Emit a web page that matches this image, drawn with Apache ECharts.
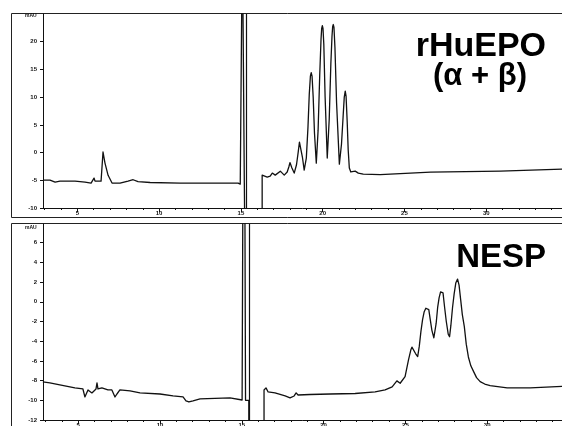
<!DOCTYPE html>
<html>
<head>
<meta charset="utf-8">
<script src="https://cdn.jsdelivr.net/npm/echarts@6/dist/echarts.min.js"></script>
<style>
html,body{margin:0;padding:0;background:#fff;}
#chart{width:562px;height:426px;}
</style>
</head>
<body>
<div id="chart"></div>
<script>
// ---- Data (retention time in min, absorbance in mAU) ----
const topTime = [
  2.90,3.33,3.64,3.94,4.86,5.47,5.84,5.96,6.02,6.08,
  6.45,6.51,6.57,6.69,6.88,7.12,7.61,8.10,8.41,8.71,
  9.45,11.29,13.12,14.83,14.96,15.08,15.09,15.20,15.21,15.31,
  15.32,16.30,16.30,16.61,16.79,16.92,17.10,17.22,17.41,17.65,
  17.83,17.93,18.00,18.04,18.12,18.26,18.40,18.50,18.58,18.63,
  18.68,18.76,18.87,19.00,19.10,19.18,19.25,19.30,19.35,19.42,
  19.50,19.61,19.72,19.82,19.90,19.94,19.98,20.02,20.07,20.15,
  20.28,20.40,20.50,20.57,20.61,20.65,20.69,20.75,20.85,21.02,
  21.15,21.25,21.32,21.38,21.43,21.50,21.56,21.63,21.72,21.81,
  21.99,22.18,22.48,23.52,26.59,30.87,34.66
];
const topAbs = [
  -4.97,-4.97,-5.33,-5.15,-5.15,-5.33,-5.5,-5.7,-4.6,-5.15,
  -5.15,-5.15,0.1,-1.9,-4.1,-5.5,-5.5,-5.15,-4.9,-5.25,
  -5.4,-5.5,-5.5,-5.5,-5.7,-5.5,40,40,-5.5,-5.5,
  -40,-40,-4.07,-4.43,-4.25,-3.7,-4.07,-3.9,-3.35,-4.07,
  -3.5,-2.6,-1.8,-1.75,-2.8,-3.7,-2.2,0,1.9,2.26,
  1.8,-0.8,-3.16,-1.0,4.5,10.5,13.8,14.4,13.8,10,
  3.5,-1.9,4,14,20.5,22.4,22.9,22.4,19.5,10,
  -0.99,6,16,21,22.7,23.1,22.6,19,9,-2.08,
  1.5,6.5,10,11.1,10.2,5.5,0.5,-2.8,-3.5,-3.5,
  -3.35,-3.7,-3.9,-3.98,-3.53,-3.35,-2.98
];

const bottomTime = [
  2.84,3.27,3.88,4.80,5.29,5.41,5.47,5.60,5.72,5.84,
  5.96,6.09,6.15,6.21,6.45,6.82,7.06,7.25,7.37,7.55,
  8.17,8.78,10.0,10.80,11.41,11.59,11.77,12.02,12.45,13.36,
  14.28,15.02,15.12,15.13,15.22,15.23,15.43,15.44,16.36,16.36,
  16.48,16.61,17.03,17.65,17.95,18.20,18.32,18.44,19.17,20.40,
  21.93,23.15,23.76,24.19,24.48,24.68,24.98,25.19,25.33,25.40,
  25.45,25.52,25.62,25.75,25.85,25.95,26.05,26.15,26.25,26.35,
  26.43,26.52,26.62,26.74,26.80,26.88,26.97,27.06,27.15,27.23,
  27.30,27.40,27.50,27.62,27.70,27.78,27.88,27.98,28.08,28.19,
  28.28,28.38,28.48,28.60,28.72,28.85,29.00,29.17,29.35,29.57,
  29.85,30.18,31.22,32.63,34.59
];
const bottomAbs = [
  -8.13,-8.24,-8.44,-8.74,-8.85,-9.66,-9.76,-8.95,-8.85,-9.25,
  -9.05,-8.85,-8.24,-8.85,-8.74,-8.95,-8.95,-9.66,-9.36,-8.95,
  -9.05,-9.25,-9.36,-9.56,-9.66,-10.07,-10.17,-10.07,-9.86,-9.81,
  -9.76,-9.97,-10.07,40,40,-10.0,-10.0,-40,-40,-8.95,
  -8.74,-9.15,-9.25,-9.56,-9.76,-9.56,-9.25,-9.46,-9.41,-9.36,
  -9.31,-9.15,-8.95,-8.64,-8.03,-8.27,-7.6,-5.9,-4.9,-4.6,
  -4.54,-4.75,-5.25,-5.56,-4.5,-3.0,-1.8,-1.0,-0.65,-0.53,
  -0.8,-1.8,-2.9,-3.65,-3.5,-2.2,-0.6,0.4,1.0,1.15,
  0.9,-0.6,-2.0,-3.3,-3.55,-2.4,-0.6,0.8,1.9,2.31,
  1.7,0.2,-1.3,-2.5,-4.3,-5.6,-6.5,-7.09,-7.7,-8.1,
  -8.35,-8.51,-8.74,-8.74,-8.59
];

const markerTimes = [15.32, 15.44];          // vertical marker line (top, bottom)
const xTickLabels = [5, 10, 15, 20, 25, 30, 35];
const topYTicks = [-10, -5, 0, 5, 10, 15, 20];
const bottomYTicks = [-12, -10, -8, -6, -4, -2, 0, 2, 4, 6];
const unitLabel = 'mAU';
const topTitle = 'rHuEPO';
const topSubtitle = '(α + β)';
const bottomTitle = 'NESP';

const minorX = [];
for (let v = 3; v <= 35; v++) minorX.push(v);

const FONT = 'Liberation Sans';
const ink = '#111';

function xAx(gridIndex, min, showLabels) {
  return {
    type: 'value', gridIndex, min, max: 35, position: 'bottom',
    axisLine: { show: showLabels, onZero: false, lineStyle: { color: ink, width: 1 } },
    axisTick: { show: true, customValues: showLabels ? xTickLabels : minorX, length: showLabels ? 4 : 2, lineStyle: { color: ink } },
    axisLabel: { show: showLabels, customValues: xTickLabels, fontSize: 6, fontWeight: 'bold', color: ink, fontFamily: FONT, margin: 2 },
    splitLine: { show: false }
  };
}
function yAx(gridIndex, min, max, ticks) {
  return {
    type: 'value', gridIndex, min, max,
    axisLine: { show: true, onZero: false, lineStyle: { color: ink, width: 1 } },
    axisTick: { show: true, customValues: ticks, length: 3, lineStyle: { color: ink } },
    axisLabel: { customValues: ticks, fontSize: 6, fontWeight: 'bold', color: ink, fontFamily: FONT, margin: 6 },
    splitLine: { show: false }
  };
}
function trace(idx, times, vals, marker) {
  return {
    type: 'line', xAxisIndex: idx, yAxisIndex: idx, clip: true,
    data: times.map((t, i) => [t, vals[i]]),
    showSymbol: false, symbol: 'none', animation: false,
    lineStyle: { color: ink, width: 1.3, join: 'round' },
    markLine: {
      silent: true, symbol: 'none', animation: false,
      label: { show: false },
      lineStyle: { color: ink, type: 'solid', width: 1.2 },
      data: [{ xAxis: marker }]
    }
  };
}

const chart = echarts.init(document.getElementById('chart'), null, { renderer: 'canvas' });
chart.setOption({
  animation: false,
  backgroundColor: '#fff',
  grid: [
    { left: 43, top: 14, width: 525, height: 194, outerBoundsMode: 'none', containLabel: false },
    { left: 43, top: 224, width: 526, height: 196, outerBoundsMode: 'none', containLabel: false }
  ],
  xAxis: [
    xAx(0, 2.9, true), xAx(1, 2.85, true),
    xAx(0, 2.9, false), xAx(1, 2.85, false)
  ],
  yAxis: [
    yAx(0, -10, 25, topYTicks), yAx(1, -12, 7.9, bottomYTicks)
  ],
  series: [
    trace(0, topTime, topAbs, markerTimes[0]),
    trace(1, bottomTime, bottomAbs, markerTimes[1])
  ],
  graphic: [
    { type: 'rect', shape: { x: 11.5, y: 13.5, width: 560, height: 204 }, style: { fill: 'none', stroke: '#222', lineWidth: 1 }, silent: true },
    { type: 'rect', shape: { x: 11.5, y: 223.5, width: 560, height: 220 }, style: { fill: 'none', stroke: '#222', lineWidth: 1 }, silent: true },
    { type: 'text', left: 25, top: 13, style: { text: unitLabel, font: 'bold 5px "Liberation Sans"', fill: ink } },
    { type: 'text', left: 25, top: 225, style: { text: unitLabel, font: 'bold 5px "Liberation Sans"', fill: ink } },
    { type: 'text', x: 546, y: 47, style: { text: topTitle, font: 'bold 34px "Liberation Sans"', fill: '#000', align: 'right', verticalAlign: 'middle' } },
    { type: 'text', x: 480, y: 76, style: { text: topSubtitle, font: 'bold 31px "Liberation Sans"', fill: '#000', align: 'center', verticalAlign: 'middle' } },
    { type: 'text', x: 546, y: 258, style: { text: bottomTitle, font: 'bold 33px "Liberation Sans"', fill: '#000', align: 'right', verticalAlign: 'middle' } }
  ]
});
</script>
</body>
</html>
